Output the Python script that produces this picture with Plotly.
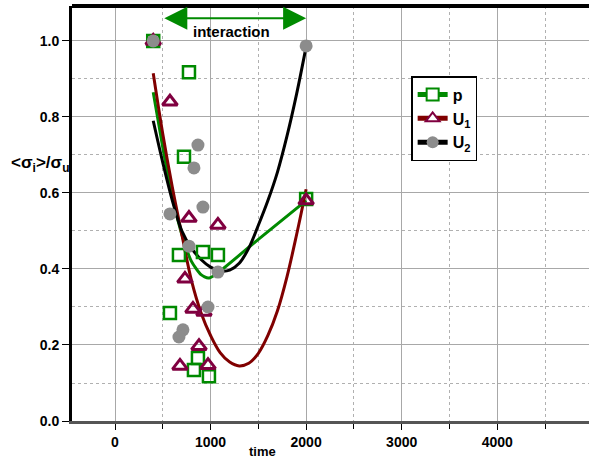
import plotly.graph_objects as go

# ---- data ----
p_time = [400, 774, 722, 669, 920, 1077, 575, 868, 826, 983, 2000]
p_val = [1.0, 0.918, 0.695, 0.437, 0.445, 0.437, 0.284, 0.166, 0.134, 0.118, 0.584]

u1_time = [400, 575, 774, 1077, 732, 816, 931, 879, 680, 973, 2000]
u1_val = [1.0, 0.84, 0.534, 0.516, 0.374, 0.295, 0.287, 0.197, 0.145, 0.147, 0.58]

u2_time = [400, 868, 826, 575, 920, 774, 1077, 973, 711, 669, 2000]
u2_val = [1.0, 0.726, 0.666, 0.545, 0.563, 0.46, 0.392, 0.30, 0.24, 0.221, 0.987]

# fitted curves
p_fit_t = [400, 500, 600, 700, 800, 900, 975, 1050, 1500, 2000]
p_fit_v = [0.865, 0.72, 0.59, 0.49, 0.42, 0.385, 0.376, 0.385, 0.478, 0.58]

u1_fit_t = [400, 500, 600, 700, 800, 900, 1000, 1100, 1200, 1300, 1400, 1500, 1600, 1700, 1800, 1900, 2000]
u1_fit_v = [0.915, 0.755, 0.615, 0.49, 0.37, 0.285, 0.225, 0.18, 0.155, 0.145, 0.152, 0.178, 0.225, 0.29, 0.38, 0.49, 0.61]

u2_fit_t = [400, 500, 600, 700, 800, 900, 1000, 1100, 1200, 1300, 1400, 1500, 1600, 1700, 1800, 1900, 2000]
u2_fit_v = [0.79, 0.68, 0.58, 0.50, 0.455, 0.425, 0.405, 0.395, 0.397, 0.415, 0.455, 0.515, 0.58, 0.655, 0.75, 0.86, 0.985]

x_ticks = [0, 1000, 2000, 3000, 4000]
y_ticks = [0.0, 0.2, 0.4, 0.6, 0.8, 1.0]
y_tick_labels = ["0.0", "0.2", "0.4", "0.6", "0.8", "1.0"]

GREEN = "#008a00"
DRED = "#800000"
PURP = "#800040"
GRAY = "#8c8c8c"
FONT = "Liberation Sans"

fig = go.Figure()

# curves
fig.add_trace(go.Scatter(x=p_fit_t, y=p_fit_v, mode="lines", line=dict(color=GREEN, width=3, shape="spline", smoothing=0.6), showlegend=False))
fig.add_trace(go.Scatter(x=u1_fit_t, y=u1_fit_v, mode="lines", line=dict(color=DRED, width=3, shape="spline"), showlegend=False))
fig.add_trace(go.Scatter(x=u2_fit_t, y=u2_fit_v, mode="lines", line=dict(color="black", width=3, shape="spline"), showlegend=False))

# markers
fig.add_trace(go.Scatter(x=p_time, y=p_val, mode="markers",
                         marker=dict(symbol="square-open", size=12, color=GREEN, line=dict(width=2.5, color=GREEN)), showlegend=False))
fig.add_trace(go.Scatter(x=u1_time, y=u1_val, mode="markers",
                         marker=dict(symbol="triangle-up-open", size=13, color=PURP, line=dict(width=3, color=PURP)), showlegend=False))
fig.add_trace(go.Scatter(x=u2_time, y=u2_val, mode="markers",
                         marker=dict(symbol="circle", size=13, color=GRAY, line=dict(width=0)), showlegend=False))

# legend entries
fig.add_trace(go.Scatter(x=[None], y=[None], mode="lines+markers", name="p",
                         line=dict(color=GREEN, width=3),
                         marker=dict(symbol="square", size=12, color="white", line=dict(width=2.5, color=GREEN))))
fig.add_trace(go.Scatter(x=[None], y=[None], mode="lines+markers", name="U<sub>1</sub>",
                         line=dict(color=DRED, width=3),
                         marker=dict(symbol="triangle-up", size=13, color="white", line=dict(width=3, color=PURP))))
fig.add_trace(go.Scatter(x=[None], y=[None], mode="lines+markers", name="U<sub>2</sub>",
                         line=dict(color="black", width=3),
                         marker=dict(symbol="circle", size=13, color=GRAY)))

# top border
fig.add_shape(type="line", xref="paper", yref="paper", x0=0, x1=1, y0=1, y1=1,
              line=dict(color="black", width=4))

# interaction arrow
fig.add_annotation(x=2000, y=1.06, ax=500, ay=1.06, xref="x", yref="y", axref="x", ayref="y",
                   text="", showarrow=True, arrowhead=2, startarrowhead=2, arrowside="end+start",
                   arrowsize=2.3, startarrowsize=2.3, arrowwidth=2, arrowcolor=GREEN)
fig.add_annotation(x=1224, y=1.026, xref="x", yref="y", text="<b>interaction</b>", showarrow=False,
                   font=dict(family=FONT, size=15, color="black"))

# axis titles
fig.add_annotation(xref="paper", yref="paper", x=-0.062, y=0.62, xanchor="center", yanchor="middle",
                   text="<b>&lt;σ<sub>i</sub>&gt;/σ<sub>u</sub></b>", showarrow=False,
                   font=dict(family=FONT, size=17, color="black"))
fig.add_annotation(xref="x", yref="paper", x=1540, y=-0.05, yanchor="top",
                   text="<b>time</b>", showarrow=False, font=dict(family=FONT, size=13, color="black"))

fig.update_layout(
    width=589, height=459,
    margin=dict(l=72, r=0, t=6, b=38),
    paper_bgcolor="white", plot_bgcolor="white",
    font=dict(family=FONT, size=13, color="black"),
    xaxis=dict(range=[-450, 4960], tickvals=x_ticks, ticktext=[str(v) for v in x_ticks],
               showgrid=True, gridcolor="#a8a8a8", gridwidth=1,
               minor=dict(dtick=500, tick0=0, showgrid=True, gridcolor="#b0b0b0", griddash="dot",
                          ticks="outside", ticklen=5, tickcolor="black"),
               ticks="outside", ticklen=6, tickcolor="black",
               showline=True, linecolor="#555555", linewidth=3,
               tickfont=dict(family=FONT, size=14, weight="bold"), zeroline=False, fixedrange=True),
    yaxis=dict(range=[0, 1.092], tickvals=y_ticks, ticktext=y_tick_labels,
               showgrid=True, gridcolor="#a8a8a8", gridwidth=1,
               minor=dict(dtick=0.1, tick0=0, showgrid=True, gridcolor="#b0b0b0", griddash="dot"),
               ticks="outside", ticklen=7, tickcolor="black",
               showline=True, linecolor="black", linewidth=3,
               tickfont=dict(family=FONT, size=14, weight="bold"), zeroline=False, fixedrange=True),
    legend=dict(x=0.656, y=0.831, xanchor="left", yanchor="top",
                bgcolor="white", bordercolor="black", borderwidth=1.5,
                font=dict(family=FONT, size=16, weight="bold"), tracegroupgap=0, itemsizing="constant"),
    showlegend=True,
)

fig.write_html("out.html", config={"displayModeBar": False},
               post_script="document.body.style.margin='0';document.body.style.padding='0';")
